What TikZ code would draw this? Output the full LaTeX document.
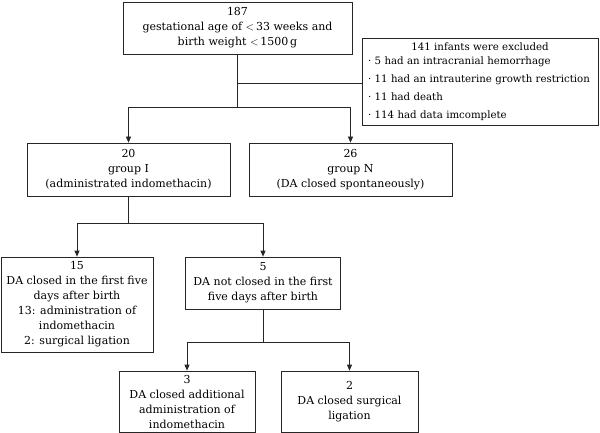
\documentclass[tikz,border=0pt]{standalone}
\usepackage{fontspec}
\setmainfont{DejaVu Serif}
\usetikzlibrary{arrows.meta}

\begin{document}
\begin{tikzpicture}[
        x=1pt, y=-1pt,
        every path/.style={line width=0.7pt},
        box/.style={rectangle, draw=black!85, inner sep=0pt, align=center,
            font=\fontsize{11}{15}\selectfont},
        link/.style={draw=black!85},
        flow/.style={draw=black!85, -{Triangle[length=6pt,width=5pt]}}
    ]
    \useasboundingbox (0,0) rectangle (600,433);

    % enrolment and exclusions
    \node [box, minimum width=229pt, minimum height=52pt] (all) at (237.5,28)
        {187\\gestational age of $<$\,33 weeks and\\birth weight $<$\,1500\,g};
    \node [box, align=left, text width=224pt, minimum width=236pt, minimum height=87pt,
            font=\fontsize{10.2}{14.5}\selectfont] (excl) at (480,81.5)
        {\mbox{}\hfill 141 infants were excluded\hfill\mbox{}\\[-0.5pt]
         \textperiodcentered\ 5 had an intracranial hemorrhage\\[3.5pt]
         \textperiodcentered\ 11 had an intrauterine growth restriction\\[3.5pt]
         \textperiodcentered\ 11 had death\\[3.5pt]
         \textperiodcentered\ 114 had data imcomplete};

    % groups
    \node [box, minimum width=203pt, minimum height=53pt] (grpI) at (128.5,169.5)
        {20\\group I\\(administrated indomethacin)};
    \node [box, minimum width=203pt, minimum height=53pt] (grpN) at (350.5,169.5)
        {26\\group N\\(DA closed spontaneously)};

    % outcome of group I
    \node [box, minimum width=152pt, minimum height=95pt] (early) at (77,304.5)
        {15\\DA closed in the first five\\days after birth\\13: administration of\\indomethacin\\2: surgical ligation};
    \node [box, minimum width=155pt, minimum height=52pt] (late) at (263,283)
        {5\\DA not closed in the first\\five days after birth};

    % outcome of the 5 not closed
    \node [box, minimum width=136pt, minimum height=61pt] (addI) at (187,401.5)
        {3\\DA closed additional\\administration of\\indomethacin};
    \node [box, minimum width=137pt, minimum height=61pt] (surg) at (349.5,401.5)
        {2\\DA closed surgical\\ligation};

    \coordinate (exjoin) at (237,83);
    \coordinate (fork1) at (237,107);
    \coordinate (fork2) at (128.5,223);
    \coordinate (fork3) at (263,342);

    \draw [link] (all.south -| fork1) -- (fork1);
    \draw [link] (exjoin) -- (exjoin -| excl.west);
    \draw [flow] (fork1) -| (grpI.north);
    \draw [flow] (fork1) -| (grpN.north);

    \draw [link] (grpI.south) -- (fork2);
    \draw [flow] (fork2) -| (early.north);
    \draw [flow] (fork2) -| (late.north);

    \draw [link] (late.south) -- (fork3);
    \draw [flow] (fork3) -| (addI.north);
    \draw [flow] (fork3) -| (surg.north);
\end{tikzpicture}
\end{document}
